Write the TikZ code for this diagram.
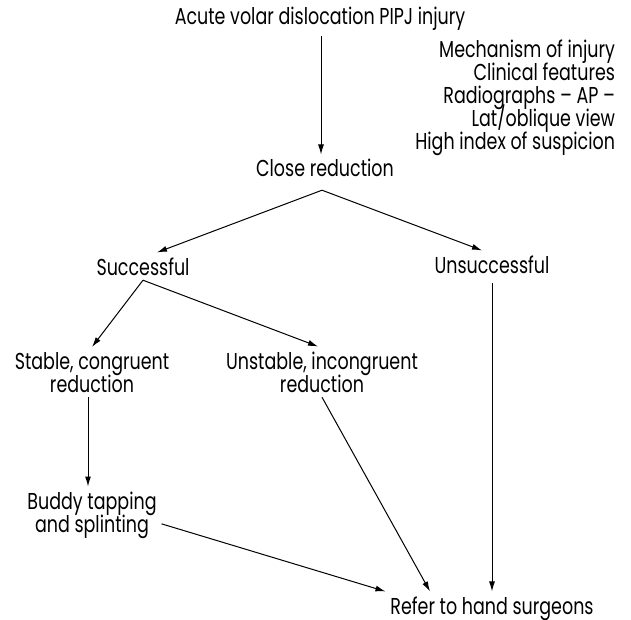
\documentclass[tikz,border=0pt]{standalone}
\usepackage{fontspec}
\setmainfont{Poppins}[FakeStretch=0.76]
\usetikzlibrary{arrows.meta, positioning}
\newcommand{\chartfont}{\fontsize{11.5}{11.5}\selectfont\lineskiplimit=-6pt\relax}

\begin{document}
\begin{tikzpicture}[
  x=0.5pt, y=-0.5pt,
  txt/.style={inner sep=0pt, outer sep=2.5pt, align=center, font=\chartfont},
  arrow/.style={-{Latex[length=5pt, width=3pt]}, line width=0.5pt}
]
\useasboundingbox (0,0) rectangle (631,620);

% top of the chart
\node[txt, anchor=base] (acute) at (320,25) {Acute volar dislocation PIPJ injury};
\node[txt, anchor=base east, align=right] (hints) at (620,150) {%
  Mechanism of injury\\
  Clinical features\\
  Radiographs -- AP --\\
  Lat/oblique view\\
  High index of suspicion};
\node[txt, anchor=base] (close) at (325,177) {Close reduction};

% outcome of the reduction
\node[txt, anchor=base] (succ) at (143,275) {Successful};
\node[txt, anchor=base] (unsucc) at (492,273) {Unsuccessful};
\node[txt, anchor=base] (stable) at (92,392) {Stable, congruent\\reduction};
\node[txt, anchor=base] (unstable) at (322,392) {Unstable, incongruent\\reduction};
\node[txt, anchor=base] (buddy) at (92,532) {Buddy tapping\\and splinting};
\node[txt, anchor=base] (refer) at (492,614) {Refer to hand surgeons};

\draw[arrow] ([xshift=0.5pt]acute.south) -- ([xshift=-2pt]close.north);
\draw[arrow] ([xshift=-1.5pt, yshift=-4pt]close.south) -- ([xshift=7pt]succ.north);
\draw[arrow] ([xshift=-1.5pt, yshift=-4pt]close.south) -- ([xshift=-5pt]unsucc.north);
\draw[arrow] (succ.south) -- (stable.north);
\draw[arrow] (succ.south) -- ([xshift=-2pt]unstable.north);
\draw[arrow] ([xshift=-2pt]stable.south) -- ([xshift=-2pt]buddy.north);
\draw[arrow] (unstable.south) -- ([xshift=-31pt]refer.north);
\draw[arrow] ([yshift=-2.5pt]unsucc.south) -- (refer.north);
\draw[arrow] ([yshift=-4.5pt]buddy.east) -- (refer.north west);

\end{tikzpicture}
\end{document}
